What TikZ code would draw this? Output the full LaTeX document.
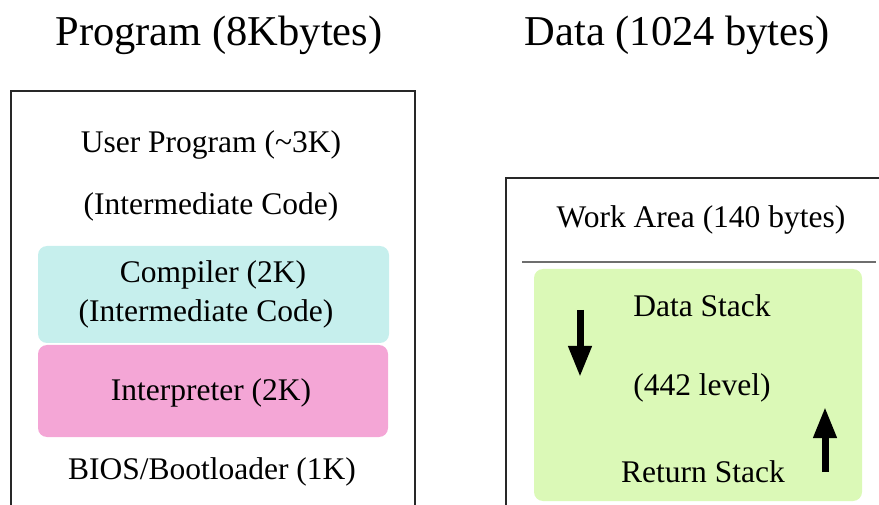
\documentclass[tikz,border=0pt]{standalone}
\usepackage{fontspec}
\setmainfont{Liberation Serif}
\usetikzlibrary{arrows.meta}
\definecolor{cyanfill}{RGB}{198,239,237}
\definecolor{pinkfill}{RGB}{244,166,214}
\definecolor{greenfill}{RGB}{219,249,183}
\definecolor{framegray}{RGB}{40,40,40}
\definecolor{sepgray}{RGB}{110,110,110}
\tikzset{
  title/.style={font=\fontsize{42.5}{46}\selectfont, inner sep=0pt},
  label/.style={font=\fontsize{31.5}{34}\selectfont, inner sep=0pt},
  frame/.style={draw=framegray, line width=1.6pt},
  blockbox/.style={rounded corners=9pt, draw=none},
  bigarrow/.style={line width=7pt, -{Triangle[width=22pt,length=31pt]}}
}
\begin{document}
\begin{tikzpicture}[x=1pt,y=-1pt]
\useasboundingbox (0,0) rectangle (879,505);
% titles
\node[title] (ptitle) at (219,35) {Program (8Kbytes)};
\node[title] (dtitle) at (677,35) {Data (1024 bytes)};
% left frame (open at bottom)
\draw[frame] (11,520) -- (11,91) -- (415,91) -- (415,520);
% right frame (open at bottom and right)
\draw[frame] (506,520) -- (506,178) -- (890,178);
% blocks
\fill[cyanfill, blockbox] (38,246) rectangle (389,343);
\fill[pinkfill, blockbox] (38,345) rectangle (388,437);
\fill[greenfill, blockbox] (534,269) rectangle (862,501);
% separator
\coordinate (sepL) at (522,262);
\coordinate (sepR) at (876,262);
\draw[sepgray, line width=1.6pt] (sepL) -- (sepR);
% left texts
\node[label] (user) at (211,145) {User Program (\textasciitilde3K)};
\node[label] (inter1) at (211,207) {(Intermediate Code)};
\node[label] (comp) at (213,275) {Compiler (2K)};
\node[label] (inter2) at (206,314) {(Intermediate Code)};
\node[label] (interp) at (211,393) {Interpreter (2K)};
\node[label] (bios) at (212,472) {BIOS/Bootloader (1K)};
% right texts
\node[label] (work) at (701,220) {Work Area (140 bytes)};
\node[label] (dstack) at (702,306) {Data Stack};
\node[label] (level) at (702,388) {(442 level)};
\node[label] (rstack) at (703,472) {Return Stack};
% arrows
\coordinate (da1) at (580,310);
\coordinate (da2) at (580,377);
\coordinate (ua1) at (825,472);
\coordinate (ua2) at (825,407);
\draw[bigarrow] (da1) -- (da2);
\draw[bigarrow] (ua1) -- (ua2);
\end{tikzpicture}
\end{document}
